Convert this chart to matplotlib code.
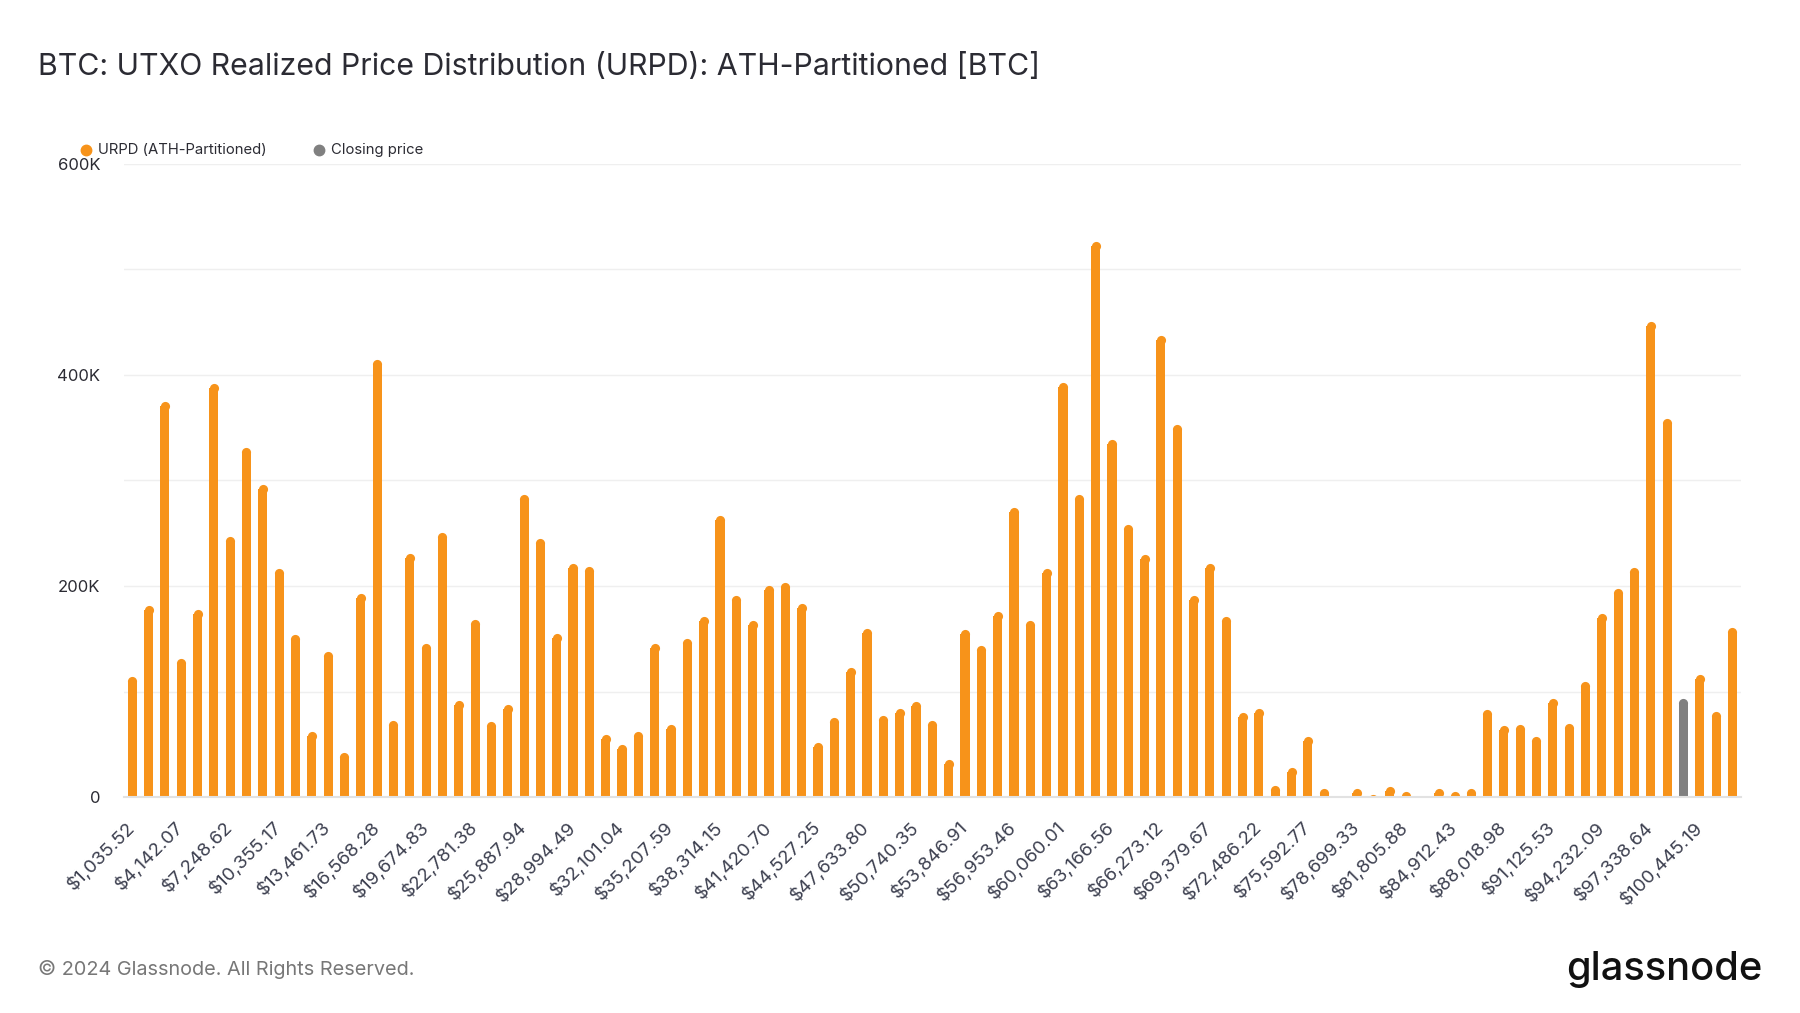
import numpy as np
import matplotlib
matplotlib.use("Agg")
import matplotlib.pyplot as plt
from matplotlib.lines import Line2D
from matplotlib.ticker import FuncFormatter, MultipleLocator

plt.rcParams['font.family'] = ['Inter', 'DejaVu Sans']

# price bins (index of the ATH partition, 1..99)
bins = np.arange(1, 100)

# supply per bin, in thousands of BTC
urpd_k = [
    114, 182, 375, 131, 178, 392, 247, 331, 296, 217,
    154, 62, 138, 42, 193, 415, 73, 231, 146, 251,
    92, 168, 72, 88, 287, 245, 155, 221, 219, 59,
    50, 62, 146, 69, 150, 171, 267, 191, 167, 201,
    203, 183, 52, 75, 123, 160, 77, 84, 91, 73,
    36, 159, 144, 176, 274, 167, 217, 393, 287, 527,
    339, 258, 230, 437, 353, 191, 221, 171, 80, 84,
    11, 28, 57, 8, 0, 8, 2, 10, 5.5, 0.4,
    8, 5.5, 8, 83, 68, 69, 57, 93, 70, 110,
    174, 198, 218, 451, 359, 93, 116, 81, 161,
]

# bin that holds the closing price
closing_bin = 96

# every third bin is labelled
tick_bins = bins[::3]
tick_labels = [
    '$1,035.52', '$4,142.07', '$7,248.62', '$10,355.17', '$13,461.73',
    '$16,568.28', '$19,674.83', '$22,781.38', '$25,887.94', '$28,994.49',
    '$32,101.04', '$35,207.59', '$38,314.15', '$41,420.70', '$44,527.25',
    '$47,633.80', '$50,740.35', '$53,846.91', '$56,953.46', '$60,060.01',
    '$63,166.56', '$66,273.12', '$69,379.67', '$72,486.22', '$75,592.77',
    '$78,699.33', '$81,805.88', '$84,912.43', '$88,018.98', '$91,125.53',
    '$94,232.09', '$97,338.64', '$100,445.19',
]

ORANGE = '#F7931A'
GREY = '#808080'
TEXT = '#2b2b33'
BAR_W = 0.56

fig = plt.figure(figsize=(18, 10.13), dpi=100)
ax = fig.add_axes([0.0689, 0.2132, 0.8981, 0.6250])

ax.set_xlim(bins[0] - 0.5, bins[-1] + 0.5)
ax.set_ylim(0, 600000)

values = np.array(urpd_k) * 1000
colors = [GREY if b == closing_bin else ORANGE for b in bins]

# rounded bar tops: shorten each bar by the cap radius, put a dot on top
bbox = ax.get_window_extent()
px_per_x = bbox.width / (bins[-1] - bins[0] + 1)
px_per_y = bbox.height / 600000
r_px = BAR_W * px_per_x / 2
r_data = r_px / px_per_y
cap_pt = 2 * r_px * 72 / fig.dpi

body = np.clip(values - r_data, 0, None)
ax.bar(bins, body, width=BAR_W, color=colors, zorder=3, linewidth=0)
for b, v, c in zip(bins, values, colors):
    if v > 0:
        ax.plot([b], [v - r_data], marker='o', markersize=cap_pt, color=c,
                markeredgewidth=0, linestyle='none', zorder=3)

# axes styling
ax.yaxis.set_major_locator(MultipleLocator(200000))
ax.yaxis.set_minor_locator(MultipleLocator(100000))
ax.yaxis.set_major_formatter(FuncFormatter(lambda v, p: '0' if v == 0 else f'{int(v / 1000)}K'))
ax.grid(True, axis='y', which='both', color='#efefef', linewidth=1.0, zorder=0)
ax.grid(False, axis='x')
for s in ['top', 'right', 'left']:
    ax.spines[s].set_visible(False)
ax.spines['bottom'].set_color('#e2e2e2')
ax.spines['bottom'].set_linewidth(1.5)
ax.spines['bottom'].set_zorder(4)
ax.tick_params(axis='y', which='both', length=0, pad=17, labelsize=12, labelcolor=TEXT)
ax.tick_params(axis='x', length=0, pad=20, labelsize=13.5, labelcolor='#3c3f4f')

ax.set_xticks(tick_bins)
ax.set_xticklabels(tick_labels, rotation=45, ha='right', va='center', rotation_mode='anchor')

# title
fig.text(0.021, 0.934, 'BTC: UTXO Realized Price Distribution (URPD): ATH-Partitioned [BTC]',
         fontsize=21.8, color=TEXT, ha='left', va='center')

# legend
ly = 0.852
fig.add_artist(Line2D([0.0478], [ly], transform=fig.transFigure, marker='o',
                      markersize=7.5, color=ORANGE, linestyle='none'))
fig.text(0.0543, ly, 'URPD (ATH-Partitioned)', fontsize=10.7, color=TEXT, ha='left', va='center')
fig.add_artist(Line2D([0.1772], [ly], transform=fig.transFigure, marker='o',
                      markersize=7.5, color=GREY, linestyle='none'))
fig.text(0.1838, ly, 'Closing price', fontsize=10.7, color=TEXT, ha='left', va='center')

# footer
fig.text(0.021, 0.043, '\u00a9 2024 Glassnode. All Rights Reserved.', fontsize=14.3,
         color='#777777', ha='left', va='center')
fig.text(0.979, 0.043, 'glassnode', fontsize=28.7, color='#111111', fontweight='medium',
         ha='right', va='center')

fig.savefig('out.png', dpi=100, facecolor='white')
